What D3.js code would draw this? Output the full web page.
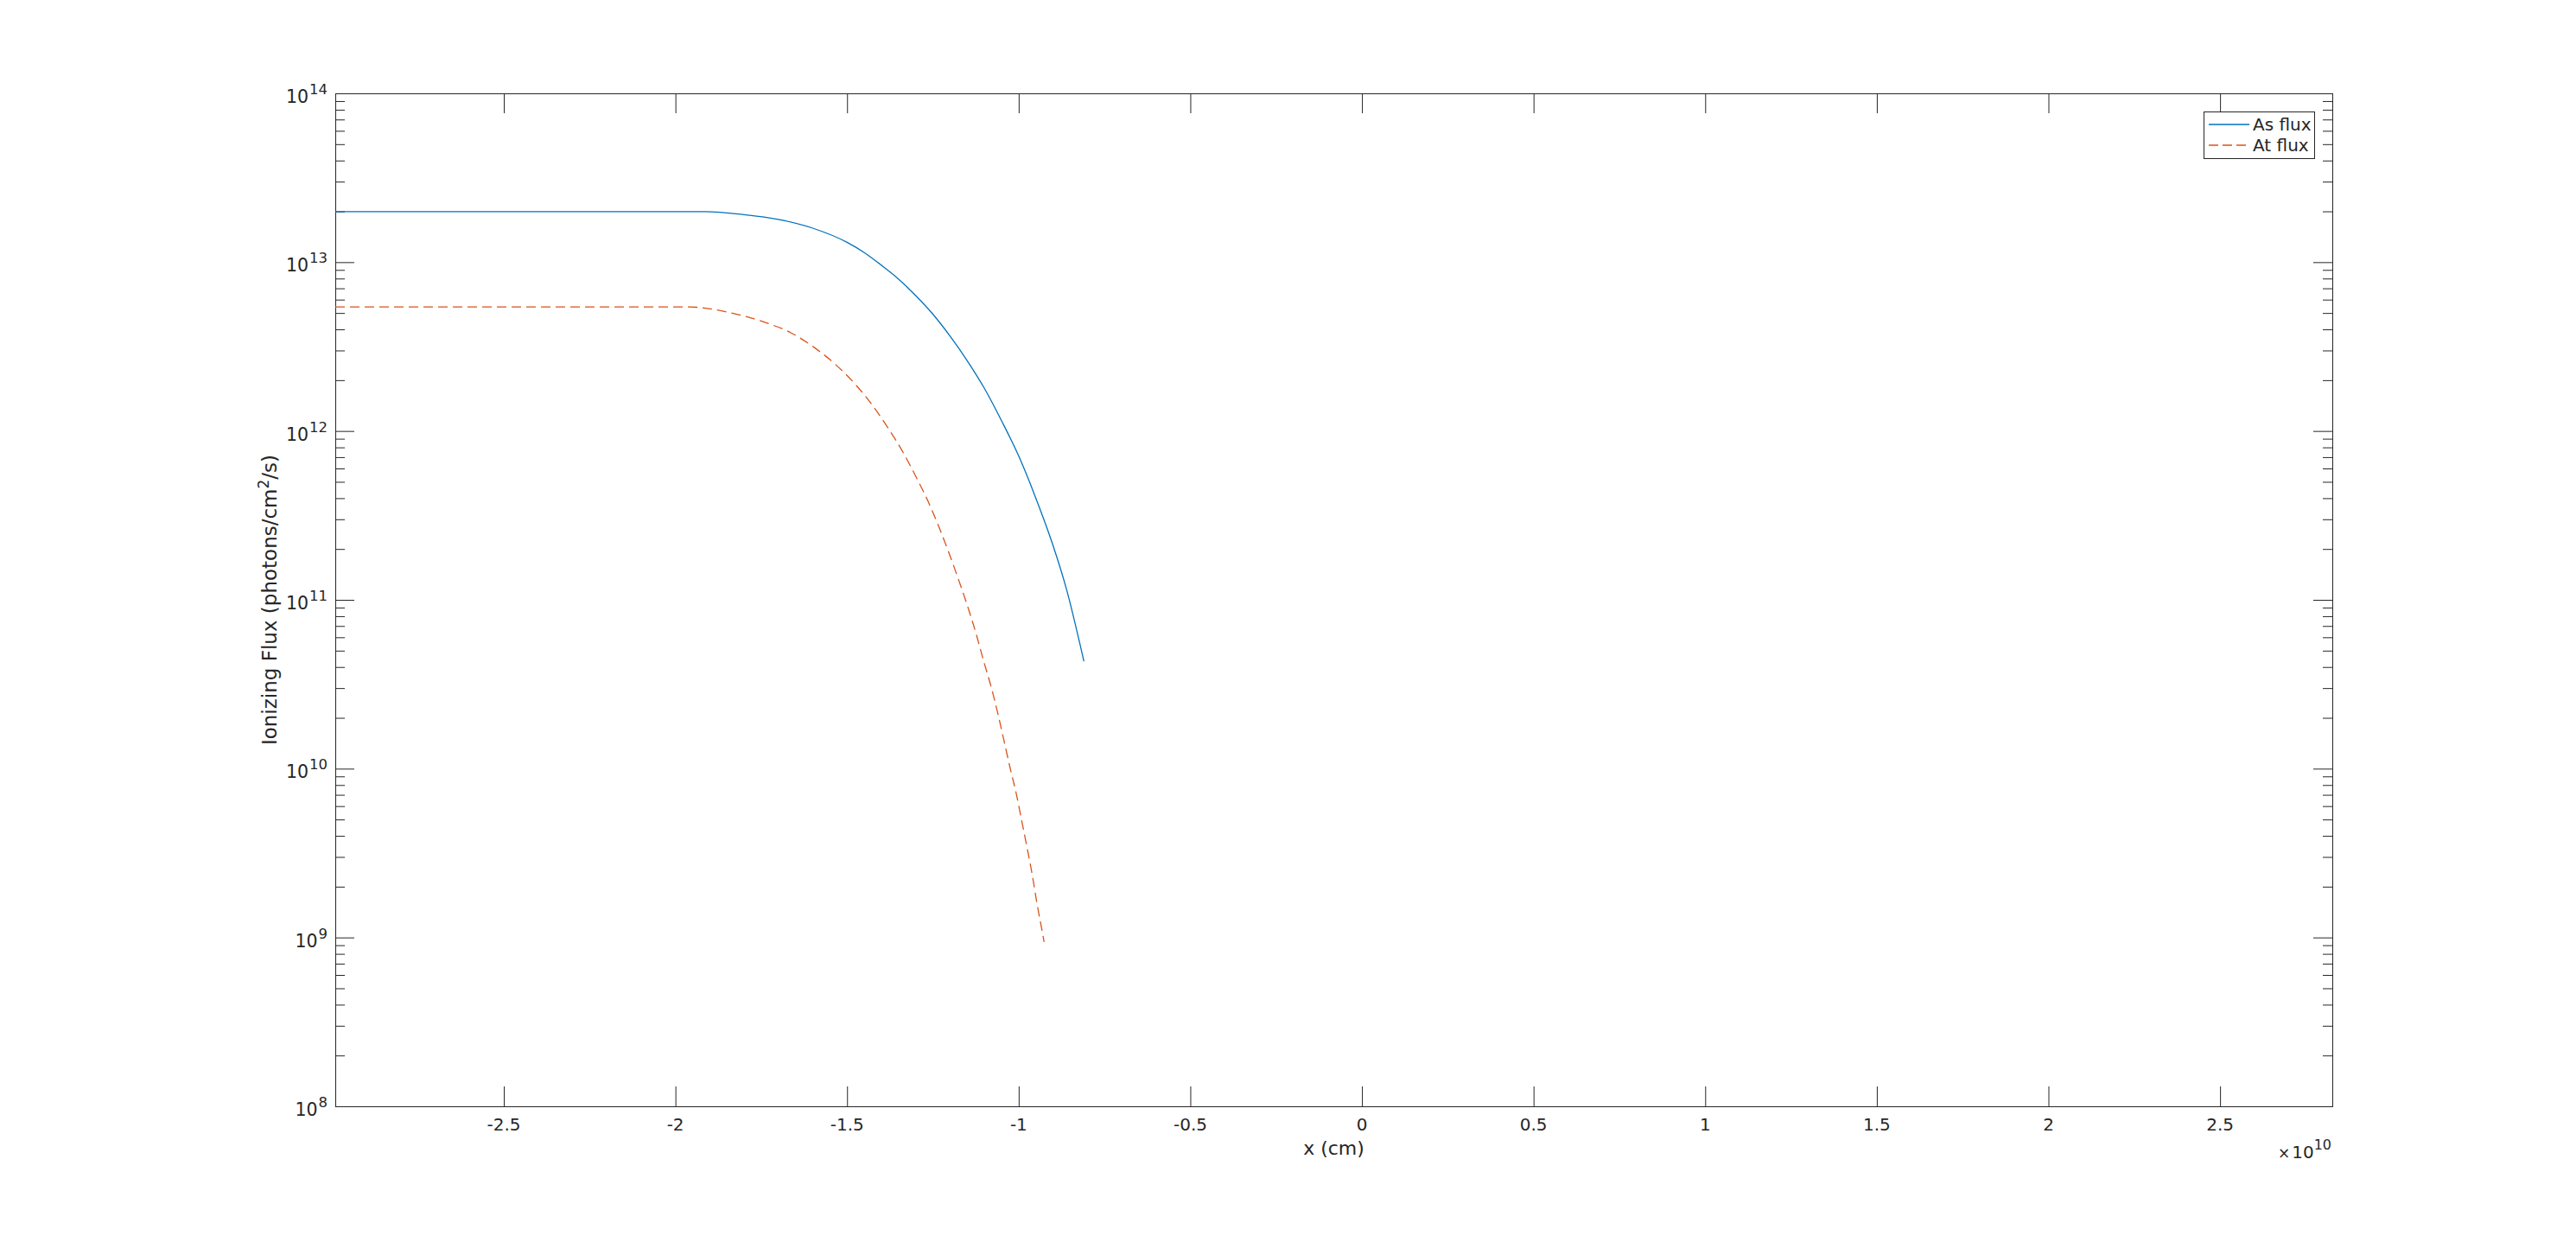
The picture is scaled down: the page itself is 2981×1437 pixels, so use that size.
<!DOCTYPE html>
<html>
<head>
<meta charset="utf-8">
<script src="https://cdn.jsdelivr.net/npm/d3@7"></script>
<style>
  html, body { margin: 0; padding: 0; background: #fff; }
  svg text { font-family: "DejaVu Sans", sans-serif; fill: #262626; }
</style>
</head>
<body>
<div id="chart"></div>
<script>
// x positions in cm, flux in photons/cm^2/s
const asX = [-2.991e10, -1.913e10, -1.80e10, -1.70e10, -1.60e10, -1.50e10, -1.45e10, -1.40e10,
  -1.35e10, -1.30e10, -1.25e10, -1.20e10, -1.15e10, -1.10e10, -1.05e10, -1.00e10,
  -0.95e10, -0.90e10, -0.86e10, -0.81e10];
const asFlux = [1.99e13, 1.99e13, 1.91e13, 1.79e13, 1.59e13, 1.31e13, 1.14e13, 9.59e12,
  7.94e12, 6.34e12, 4.92e12, 3.65e12, 2.61e12, 1.79e12, 1.15e12, 7.11e11,
  4.00e11, 2.10e11, 1.14e11, 4.32e10];

const atX = [-2.991e10, -1.961e10, -1.824e10, -1.736e10, -1.664e10, -1.597e10, -1.534e10, -1.475e10,
  -1.425e10, -1.379e10, -1.337e10, -1.299e10, -1.264e10, -1.232e10, -1.203e10, -1.176e10,
  -1.150e10, -1.124e10, -1.102e10, -1.080e10, -1.060e10, -1.043e10, -1.025e10, -1.007e10,
  -0.991e10, -0.975e10, -0.960e10, -0.947e10, -0.932e10, -0.926e10];
const atFlux = [5.43e12, 5.43e12, 4.93e12, 4.38e12, 3.82e12, 3.14e12, 2.48e12, 1.88e12,
  1.41e12, 1.03e12, 7.48e11, 5.35e11, 3.83e11, 2.69e11, 1.89e11, 1.33e11,
  9.31e10, 6.29e10, 4.33e10, 3.04e10, 2.09e10, 1.47e10, 1.01e10, 7.10e9,
  4.89e9, 3.36e9, 2.32e9, 1.60e9, 1.10e9, 9.40e8];

const xTicks = [-2.5, -2, -1.5, -1, -0.5, 0, 0.5, 1, 1.5, 2, 2.5];
const xTickLabels = ["-2.5", "-2", "-1.5", "-1", "-0.5", "0", "0.5", "1", "1.5", "2", "2.5"];
const yExponents = [8, 9, 10, 11, 12, 13, 14];
const seriesNames = ["As flux", "At flux"];

const width = 2981, height = 1437;
const plot = { left: 388, right: 2699, top: 108, bottom: 1280 };
const ink = "#262626";
const colors = ["#0072BD", "#D95319"];

const svg = d3.select("#chart").append("svg")
  .attr("width", width)
  .attr("height", height);

// x scale in units of 1e10 cm
const x = d3.scaleLinear()
  .domain([-2.991, 2.827])
  .range([plot.left, plot.right]);

const y = d3.scaleLog()
  .domain([1e8, 1e14])
  .range([plot.bottom, plot.top]);

const plotW = plot.right - plot.left;
const plotH = plot.bottom - plot.top;

svg.append("rect")
  .attr("x", plot.left).attr("y", plot.top)
  .attr("width", plotW).attr("height", plotH)
  .attr("fill", "#fff");

// minor ticks for log axis
const minorVals = [];
yExponents.slice(0, -1).forEach(e => {
  for (let m = 2; m <= 9; m++) minorVals.push(m * Math.pow(10, e));
});

function styleAxis(g) {
  g.select(".domain").remove();
  g.selectAll(".tick line").attr("stroke", ink).attr("stroke-width", 1);
}

// x ticks bottom and top (inward)
svg.append("g")
  .attr("transform", `translate(0,${plot.bottom})`)
  .call(d3.axisBottom(x).tickValues(xTicks).tickSize(-23).tickFormat(""))
  .call(styleAxis);
svg.append("g")
  .attr("transform", `translate(0,${plot.top})`)
  .call(d3.axisTop(x).tickValues(xTicks).tickSize(-23).tickFormat(""))
  .call(styleAxis);

// y ticks left and right
const majorVals = yExponents.map(e => Math.pow(10, e));
svg.append("g")
  .attr("transform", `translate(${plot.left},0)`)
  .call(d3.axisLeft(y).tickValues(majorVals).tickSize(-22).tickFormat(""))
  .call(styleAxis);
svg.append("g")
  .attr("transform", `translate(${plot.left},0)`)
  .call(d3.axisLeft(y).tickValues(minorVals).tickSize(-11).tickFormat(""))
  .call(styleAxis);
svg.append("g")
  .attr("transform", `translate(${plot.right},0)`)
  .call(d3.axisRight(y).tickValues(majorVals).tickSize(-22).tickFormat(""))
  .call(styleAxis);
svg.append("g")
  .attr("transform", `translate(${plot.right},0)`)
  .call(d3.axisRight(y).tickValues(minorVals).tickSize(-11).tickFormat(""))
  .call(styleAxis);

// frame
svg.append("rect")
  .attr("x", plot.left + 0.5).attr("y", plot.top + 0.5)
  .attr("width", plotW).attr("height", plotH)
  .attr("fill", "none")
  .attr("stroke", ink)
  .attr("stroke-width", 1);

// x tick labels
svg.selectAll(".xlab")
  .data(xTicks)
  .enter()
  .append("text")
  .attr("x", d => x(d))
  .attr("y", plot.bottom + 28)
  .attr("text-anchor", "middle")
  .style("font-size", "20px")
  .text((d, i) => xTickLabels[i]);

// y tick labels 10^n
const ylab = svg.selectAll(".ylab")
  .data(yExponents)
  .enter()
  .append("text")
  .attr("x", plot.left - 9)
  .attr("y", d => y(Math.pow(10, d)) + 11)
  .attr("text-anchor", "end")
  .style("font-size", "20.5px");
ylab.append("tspan").text("10");
ylab.append("tspan")
  .attr("dx", 1)
  .attr("dy", -10)
  .style("font-size", "16.5px")
  .text(d => d);

// exponent multiplier
const mult = svg.append("text")
  .attr("x", plot.right - 1)
  .attr("y", 1340)
  .attr("text-anchor", "end")
  .style("font-size", "20px");
mult.append("tspan").style("font-size", "17px").text("×");
mult.append("tspan").attr("dx", 2).text("10");
mult.append("tspan").attr("dy", -10).style("font-size", "16px").text("10");

// axis labels
svg.append("text")
  .attr("x", (plot.left + plot.right) / 2)
  .attr("y", 1336)
  .attr("text-anchor", "middle")
  .style("font-size", "22px")
  .text("x (cm)");

const yl = svg.append("text")
  .attr("transform", `translate(320,${(plot.top + plot.bottom) / 2}) rotate(-90)`)
  .attr("text-anchor", "middle")
  .style("font-size", "23px");
yl.append("tspan").text("Ionizing Flux (photons/cm");
yl.append("tspan").attr("dy", -9).style("font-size", "17px").text("2");
yl.append("tspan").attr("dy", 9).text("/s)");

// curves
const series = [
  asX.map((v, i) => ({ x: v / 1e10, y: asFlux[i] })),
  atX.map((v, i) => ({ x: v / 1e10, y: atFlux[i] }))
];

const line = d3.line()
  .x(d => x(d.x))
  .y(d => y(d.y))
  .curve(d3.curveMonotoneX);

svg.selectAll(".curve")
  .data(series)
  .enter()
  .append("path")
  .attr("d", line)
  .attr("fill", "none")
  .attr("stroke", (d, i) => colors[i])
  .attr("stroke-width", 1.3)
  .attr("stroke-dasharray", (d, i) => i === 1 ? "11,6" : null);

// legend
const legend = svg.append("g");
legend.append("rect")
  .attr("x", 2550.5).attr("y", 129.5)
  .attr("width", 128).attr("height", 54)
  .attr("fill", "#fff")
  .attr("stroke", ink)
  .attr("stroke-width", 1);

seriesNames.forEach((name, i) => {
  const ly = 144 + i * 24;
  legend.append("line")
    .attr("x1", 2556).attr("x2", 2603)
    .attr("y1", ly).attr("y2", ly)
    .attr("stroke", colors[i])
    .attr("stroke-width", 1.3)
    .attr("stroke-dasharray", i === 1 ? "11,5" : null);
  legend.append("text")
    .attr("x", 2607)
    .attr("y", ly + 7)
    .style("font-size", "20px")
    .text(name);
});
</script>
</body>
</html>
